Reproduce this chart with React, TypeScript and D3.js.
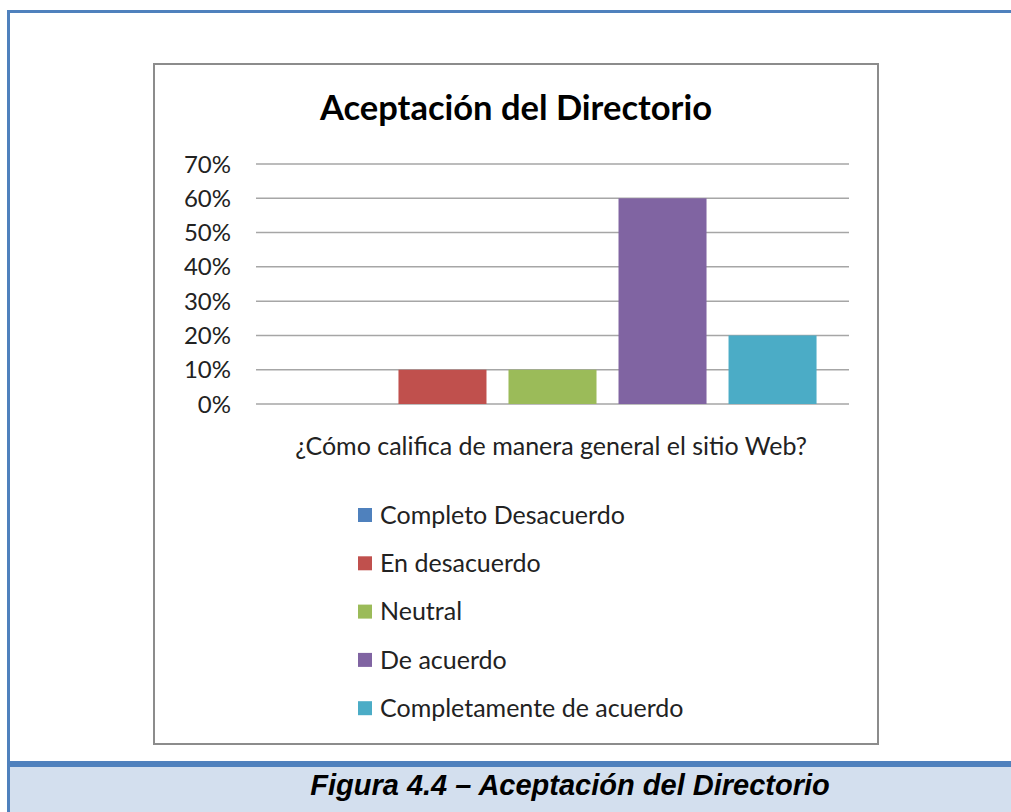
import React, { useEffect, useRef } from 'react';
import * as d3 from 'd3';

const categories = [
  'Completo Desacuerdo',
  'En desacuerdo',
  'Neutral',
  'De acuerdo',
  'Completamente de acuerdo',
];
const values = [0, 0.1, 0.1, 0.6, 0.2];
const colors = ['#4F81BD', '#C0504D', '#9BBB59', '#8064A2', '#4BACC6'];
const yTicks = [0, 0.1, 0.2, 0.3, 0.4, 0.5, 0.6, 0.7];

const title = 'Aceptación del Directorio';
const xLabel = '¿Cómo califica de manera general el sitio Web?';
const caption = 'Figura 4.4 – Aceptación del Directorio';

const App = () => {
  const ref = useRef<SVGSVGElement>(null);

  useEffect(() => {
    const svg = d3.select(ref.current);
    svg.selectAll('*').remove();
    const font = 'Lato, "Open Sans", sans-serif';

    // outer frame of the document page
    svg.append('rect').attr('x', 0).attr('y', 0).attr('width', 1011).attr('height', 812).attr('fill', '#fff');
    svg.append('rect').attr('x', 10).attr('y', 767).attr('width', 1001).attr('height', 45).attr('fill', '#D3DFEE');
    svg.append('rect').attr('x', 7).attr('y', 10).attr('width', 1004).attr('height', 3).attr('fill', '#4F81BD');
    svg.append('rect').attr('x', 7).attr('y', 10).attr('width', 3).attr('height', 802).attr('fill', '#4F81BD');
    svg.append('rect').attr('x', 10).attr('y', 761).attr('width', 1001).attr('height', 6).attr('fill', '#4F81BD');

    svg.append('text')
      .attr('x', 570).attr('y', 795)
      .attr('text-anchor', 'middle')
      .attr('font-family', '"Liberation Sans", Arial, sans-serif')
      .attr('font-weight', 'bold').attr('font-style', 'italic')
      .attr('font-size', 29)
      .attr('fill', '#000')
      .text(caption);

    // chart area box
    svg.append('rect')
      .attr('x', 154).attr('y', 64).attr('width', 724).attr('height', 680)
      .attr('fill', '#fff').attr('stroke', '#8C8C8C').attr('stroke-width', 2);

    svg.append('text')
      .attr('x', 516).attr('y', 120)
      .attr('text-anchor', 'middle')
      .attr('font-family', font).attr('font-weight', 'bold')
      .attr('font-size', 34.5).attr('fill', '#000')
      .text(title);

    const left = 256, right = 849, top = 164, bottom = 404;
    const y = d3.scaleLinear().domain([0, 0.7]).range([bottom, top]);
    const x = d3.scaleBand<string>().domain(categories).range([left, right])
      .paddingInner(0.2).paddingOuter(0.295);

    const grid = svg.append('g');
    grid.selectAll('line').data(yTicks).enter().append('line')
      .attr('x1', left).attr('x2', right)
      .attr('y1', d => y(d)).attr('y2', d => y(d))
      .attr('stroke', '#A6A6A6').attr('stroke-width', 1.5);

    svg.append('g').selectAll('text').data(yTicks).enter().append('text')
      .attr('x', 231).attr('y', d => y(d)).attr('dy', '0.36em')
      .attr('text-anchor', 'end')
      .attr('font-family', font).attr('font-size', 24).attr('fill', '#222')
      .text(d => d3.format('.0%')(d));

    svg.append('g').selectAll('rect').data(categories).enter().append('rect')
      .attr('x', d => x(d)!)
      .attr('width', x.bandwidth())
      .attr('y', (d, i) => y(values[i]))
      .attr('height', (d, i) => bottom - y(values[i]))
      .attr('fill', (d, i) => colors[i]);

    svg.append('text')
      .attr('x', 551).attr('y', 455)
      .attr('text-anchor', 'middle')
      .attr('font-family', font).attr('font-size', 25).attr('fill', '#222')
      .text(xLabel);

    const leg = svg.append('g').selectAll('g').data(categories).enter().append('g')
      .attr('transform', (d, i) => `translate(358, ${515 + i * 48.3})`);
    leg.append('rect').attr('x', 0).attr('y', -7).attr('width', 14).attr('height', 14)
      .attr('fill', (d, i) => colors[i]);
    leg.append('text').attr('x', 22).attr('y', 0).attr('dy', '0.35em')
      .attr('font-family', font).attr('font-size', 25).attr('fill', '#222')
      .text(d => d);
  }, []);

  return (
    <svg ref={ref} width={1011} height={812} style={{ position: 'absolute', left: 0, top: 0, display: 'block' }} />
  );
};

export default App;
